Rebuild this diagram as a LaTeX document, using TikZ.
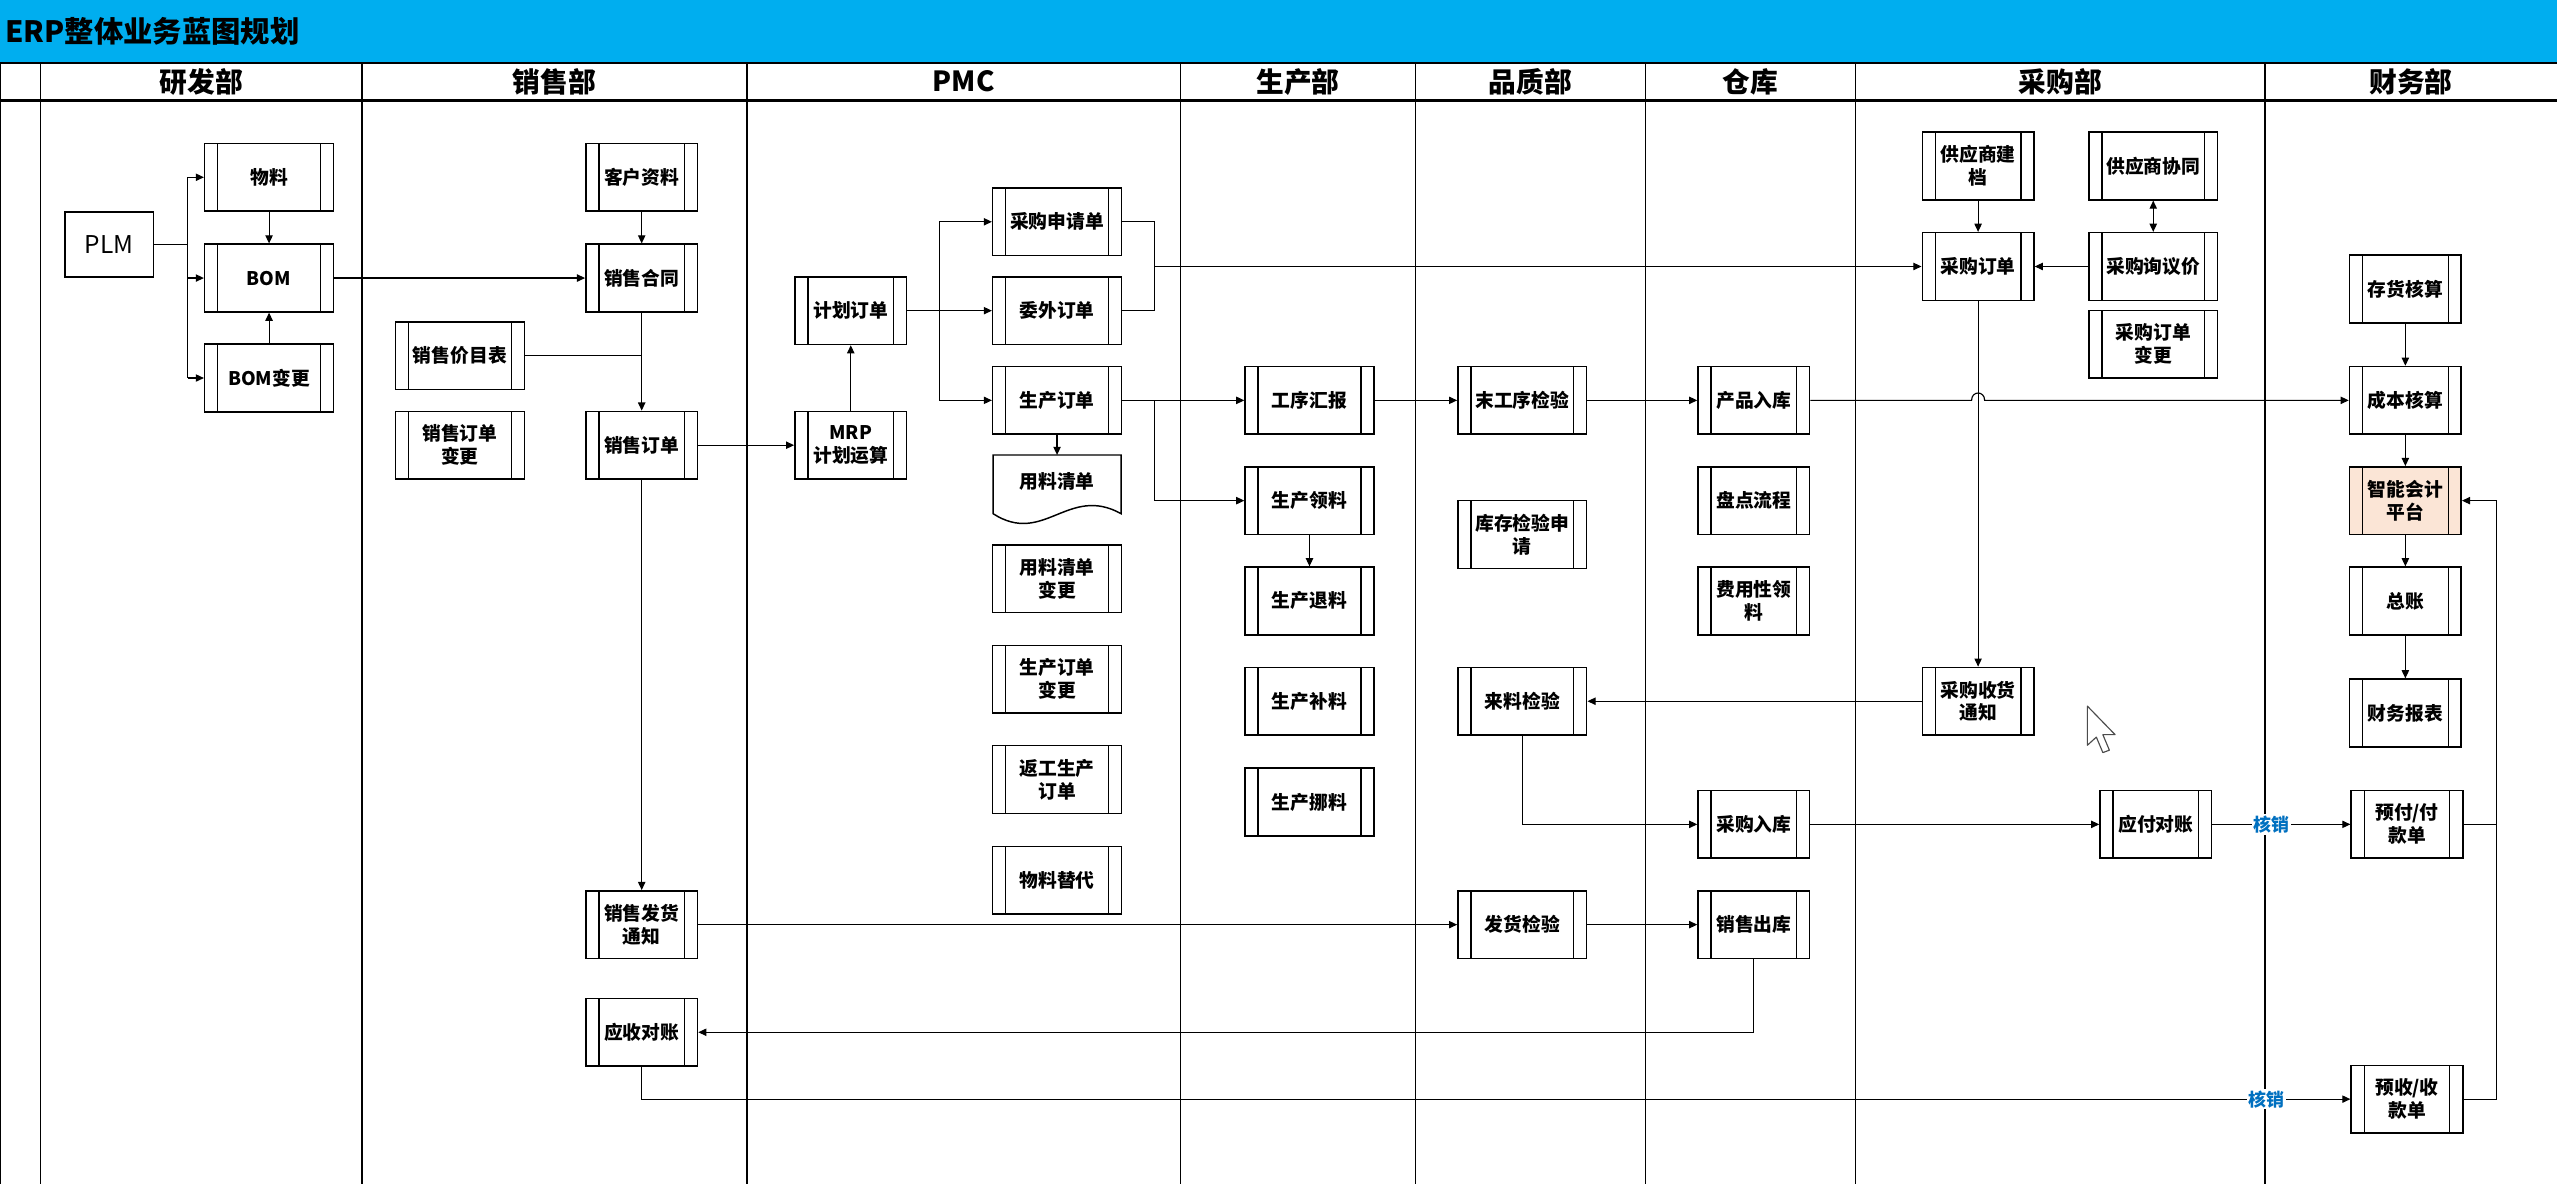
\documentclass[tikz,border=0pt]{standalone}
\usepackage{fontspec}
\setmainfont{Noto Sans CJK SC}
\usetikzlibrary{arrows.meta}
\definecolor{bandblue}{RGB}{0,174,239}
\definecolor{peach}{RGB}{251,229,214}
\definecolor{hxblue}{RGB}{0,112,192}
\begin{document}
\begin{tikzpicture}[x=1pt,y=-1pt,
  proc/.style={draw, line width=0.9pt, minimum width=79pt, minimum height=41.5pt,
    inner sep=0pt, align=center, font=\fontsize{11.5}{14}\selectfont\bfseries,
    path picture={\draw[line width=0.8pt]
      ([xshift=8pt]path picture bounding box.north west) -- ([xshift=8pt]path picture bounding box.south west)
      ([xshift=-8pt]path picture bounding box.north east) -- ([xshift=-8pt]path picture bounding box.south east);}},
  narrow/.style={minimum width=68.5pt},
  conn/.style={line width=0.7pt},
  arr/.style={conn, -{Triangle[length=5pt,width=4.5pt]}},
  arrboth/.style={conn, {Triangle[length=5pt,width=4.5pt]}-{Triangle[length=5pt,width=4.5pt]}},
  colline/.style={line width=0.8pt},
  head/.style={font=\fontsize{17}{17}\selectfont\bfseries, inner sep=0pt},
  hx/.style={font=\fontsize{11}{11}\selectfont\bfseries, text=hxblue, fill=white, inner sep=1pt}
]
\fill[white] (0,0) rectangle (1568,726);
\useasboundingbox (0,0) rectangle (1568,726);
% title band
\fill[bandblue] (0,0) rectangle (1568,38);
\node[anchor=west, font=\fontsize{18}{18}\selectfont\bfseries, inner sep=0pt] (title) at (3,19) {ERP整体业务蓝图规划};
\draw[line width=1.2pt] (0,38.5) -- (1568,38.5);
\draw[line width=1.8pt] (0,61.5) -- (1568,61.5);
% column lines
\foreach \cx in {0.5,25,222,458,724,868,1009,1138,1389}
  \draw[colline] (\cx,38.5) -- (\cx,726);
% headers
\node[head] (h1) at (123.5,50) {研发部};
\node[head] (h2) at (340,50) {销售部};
\node[head] (h3) at (591,50) {PMC};
\node[head] (h4) at (796,50) {生产部};
\node[head] (h5) at (938.5,50) {品质部};
\node[head] (h6) at (1073.5,50) {仓库};
\node[head] (h7) at (1263.5,50) {采购部};
\node[head] (h8) at (1478.5,50) {财务部};

% 研发部
\node[draw, line width=0.9pt, minimum width=54pt, minimum height=40pt, inner sep=0pt, font=\fontsize{15}{15}\selectfont] (plm) at (67,150) {PLM};
\node[proc] (wuliao) at (165,108.7) {物料};
\node[proc] (bom) at (165,170.5) {BOM};
\node[proc] (bomchg) at (165,231.8) {BOM变更};
% 销售部
\node[proc,narrow] (khzl) at (393.5,108.7) {客户资料};
\node[proc,narrow] (xsht) at (393.5,170.5) {销售合同};
\node[proc] (xsjmb) at (282,218.2) {销售价目表};
\node[proc] (xsddbg) at (282,273) {销售订单\\变更};
\node[proc,narrow] (xsdd) at (393.5,273) {销售订单};
\node[proc,narrow] (xsfh) at (393.5,567) {销售发货\\通知};
\node[proc,narrow] (ysdz) at (393.5,633) {应收对账};
% PMC
\node[proc,narrow] (jhdd) at (521.7,190.5) {计划订单};
\node[proc,narrow] (mrp) at (521.7,273) {MRP\\计划运算};
\node[proc] (cgsq) at (648.2,136) {采购申请单};
\node[proc] (wwdd) at (648.2,190.5) {委外订单};
\node[proc] (scdd) at (648.2,245.5) {生产订单};
\coordinate (ylqdtop) at (648.2,279);
\draw[line width=0.9pt] (609,279) -- (687.5,279) -- (687.5,315)
   .. controls (655,297) and (640,335) .. (609,315) -- cycle;
\node[font=\fontsize{11.5}{14}\selectfont\bfseries, inner sep=0pt] (ylqd) at (648.2,295.5) {用料清单};
\node[proc] (ylqdbg) at (648.2,355) {用料清单\\变更};
\node[proc] (scddbg) at (648.2,416.5) {生产订单\\变更};
\node[proc] (fgsc) at (648.2,478) {返工生产\\订单};
\node[proc] (wltd) at (648.2,539.8) {物料替代};
% 生产部
\node[proc] (gxhb) at (803,245.5) {工序汇报};
\node[proc] (scll) at (803,307) {生产领料};
\node[proc] (sctl) at (803,368.5) {生产退料};
\node[proc] (scbl) at (803,430) {生产补料};
\node[proc] (scnl) at (803,491.8) {生产挪料};
% 品质部
\node[proc] (mgx) at (933.5,245.5) {末工序检验};
\node[proc] (kcjy) at (933.5,327.7) {库存检验申\\请};
\node[proc] (lljy) at (933.5,430) {来料检验};
\node[proc] (fhjy) at (933.5,567) {发货检验};
% 仓库
\node[proc,narrow] (cprk) at (1075.5,245.5) {产品入库};
\node[proc,narrow] (pdlc) at (1075.5,307) {盘点流程};
\node[proc,narrow] (fyxll) at (1075.5,368.5) {费用性领\\料};
\node[proc,narrow] (cgrk) at (1075.5,505.5) {采购入库};
\node[proc,narrow] (xsck) at (1075.5,567) {销售出库};
% 采购部
\node[proc,narrow] (gysjd) at (1213,101.8) {供应商建\\档};
\node[proc] (gysxt) at (1320.4,101.8) {供应商协同};
\node[proc,narrow] (cgdd) at (1213,163.4) {采购订单};
\node[proc] (cgxyj) at (1320.4,163.4) {采购询议价};
\node[proc] (cgddbg) at (1320.4,211) {采购订单\\变更};
\node[proc,narrow] (cgsh) at (1213,430) {采购收货\\通知};
\node[proc,narrow] (yfdz) at (1322,505.5) {应付对账};
% 财务部
\node[proc,narrow] (chhs) at (1475,177.2) {存货核算};
\node[proc,narrow] (cbhs) at (1475,245.5) {成本核算};
\node[proc,narrow,fill=peach] (znkj) at (1475,307) {智能会计\\平台};
\node[proc,narrow] (zz) at (1475,368.5) {总账};
\node[proc,narrow] (cwbb) at (1475,437.2) {财务报表};
\node[proc,narrow] (yfk) at (1476,505.5) {预付/付\\款单};
\node[proc,narrow] (ysk) at (1476,674) {预收/收\\款单};

% connectors 研发部
\coordinate (plmj) at (115,150);
\draw[conn] (plm.east) -- (plmj);
\draw[conn] (plmj |- wuliao.west) -- (plmj |- bomchg.west);
\draw[arr] (plmj |- wuliao.west) -- (wuliao.west);
\draw[arr] (plmj |- bom.west) -- (bom.west);
\draw[arr] (plmj |- bomchg.west) -- (bomchg.west);
\draw[arr] (wuliao.south) -- (bom.north);
\draw[arr] (bomchg.north) -- (bom.south);
\draw[arr] (bom.east) -- (xsht.west);
% 销售部
\draw[arr] (khzl.south) -- (xsht.north);
\draw[arr] (xsht.south) -- (xsdd.north);
\draw[conn] (xsjmb.east) -- (xsjmb.east -| xsht.south);
\draw[arr] (xsdd.east) -- (mrp.west);
\draw[arr] (xsdd.south) -- (xsfh.north);
% PMC
\draw[arr] (mrp.north) -- (jhdd.south);
\coordinate (pj) at (576,190.5);
\draw[conn] (jhdd.east) -- (pj);
\draw[conn] (pj |- cgsq.west) -- (pj |- scdd.west);
\draw[arr] (pj |- cgsq.west) -- (cgsq.west);
\draw[arr] (pj) -- (wwdd.west);
\draw[arr] (pj |- scdd.west) -- (scdd.west);
\coordinate (qj) at (708,163.4);
\draw[conn] (cgsq.east) -- (cgsq.east -| qj) -- (wwdd.east -| qj) -- (wwdd.east);
\draw[arr] (qj) -- (cgdd.west);
\draw[arr] (scdd.south) -- (ylqdtop);
\draw[arr] (scdd.east) -- (gxhb.west);
\coordinate (rj) at (708,245.5);
\draw[arr] (rj) |- (scll.west);
\draw[arr] (scll.south) -- (sctl.north);
\draw[arr] (gxhb.east) -- (mgx.west);
\draw[arr] (mgx.east) -- (cprk.west);
\coordinate (hopa) at (1209,245.5);
\coordinate (hopb) at (1217,245.5);
\draw[arr] (cprk.east) -- (hopa) .. controls (1209,239.5) and (1217,239.5) .. (hopb) -- (cbhs.west);
% 采购部
\draw[arr] (gysjd.south) -- (cgdd.north);
\draw[arrboth] (gysxt.south) -- (cgxyj.north);
\draw[arr] (cgxyj.west) -- (cgdd.east);
\draw[arr] (cgdd.south) -- (cgsh.north);
\draw[arr] (cgsh.west) -- (lljy.east);
\draw[arr] (lljy.south) |- (cgrk.west);
\draw[arr] (cgrk.east) -- (yfdz.west);
\draw[arr] (yfdz.east) -- (yfk.west);
\node[hx] (hx1) at (1393,505.5) {核销};
\draw[arr] (xsfh.east) -- (fhjy.west);
\draw[arr] (fhjy.east) -- (xsck.west);
\draw[arr] (xsck.south) |- (ysdz.east);
\draw[arr] (ysdz.south) |- (ysk.west);
\node[hx] (hx2) at (1390,674) {核销};
% 财务部
\draw[arr] (chhs.south) -- (cbhs.north);
\draw[arr] (cbhs.south) -- (znkj.north);
\draw[arr] (znkj.south) -- (zz.north);
\draw[arr] (zz.south) -- (cwbb.north);
\coordinate (fj) at (1531,307);
\draw[conn] (yfk.east) -- (yfk.east -| fj);
\draw[conn] (ysk.east) -- (ysk.east -| fj) -- (fj);
\draw[arr] (fj) -- (znkj.east);
% mouse cursor
\draw[fill=white, draw=black!70, line width=0.7pt, line join=round]
  (1280,433) -- (1280,457) -- (1285.5,452) -- (1289.5,461.5) -- (1293.5,460) -- (1289.5,450.5) -- (1297,450.5) -- cycle;
\end{tikzpicture}
\end{document}
